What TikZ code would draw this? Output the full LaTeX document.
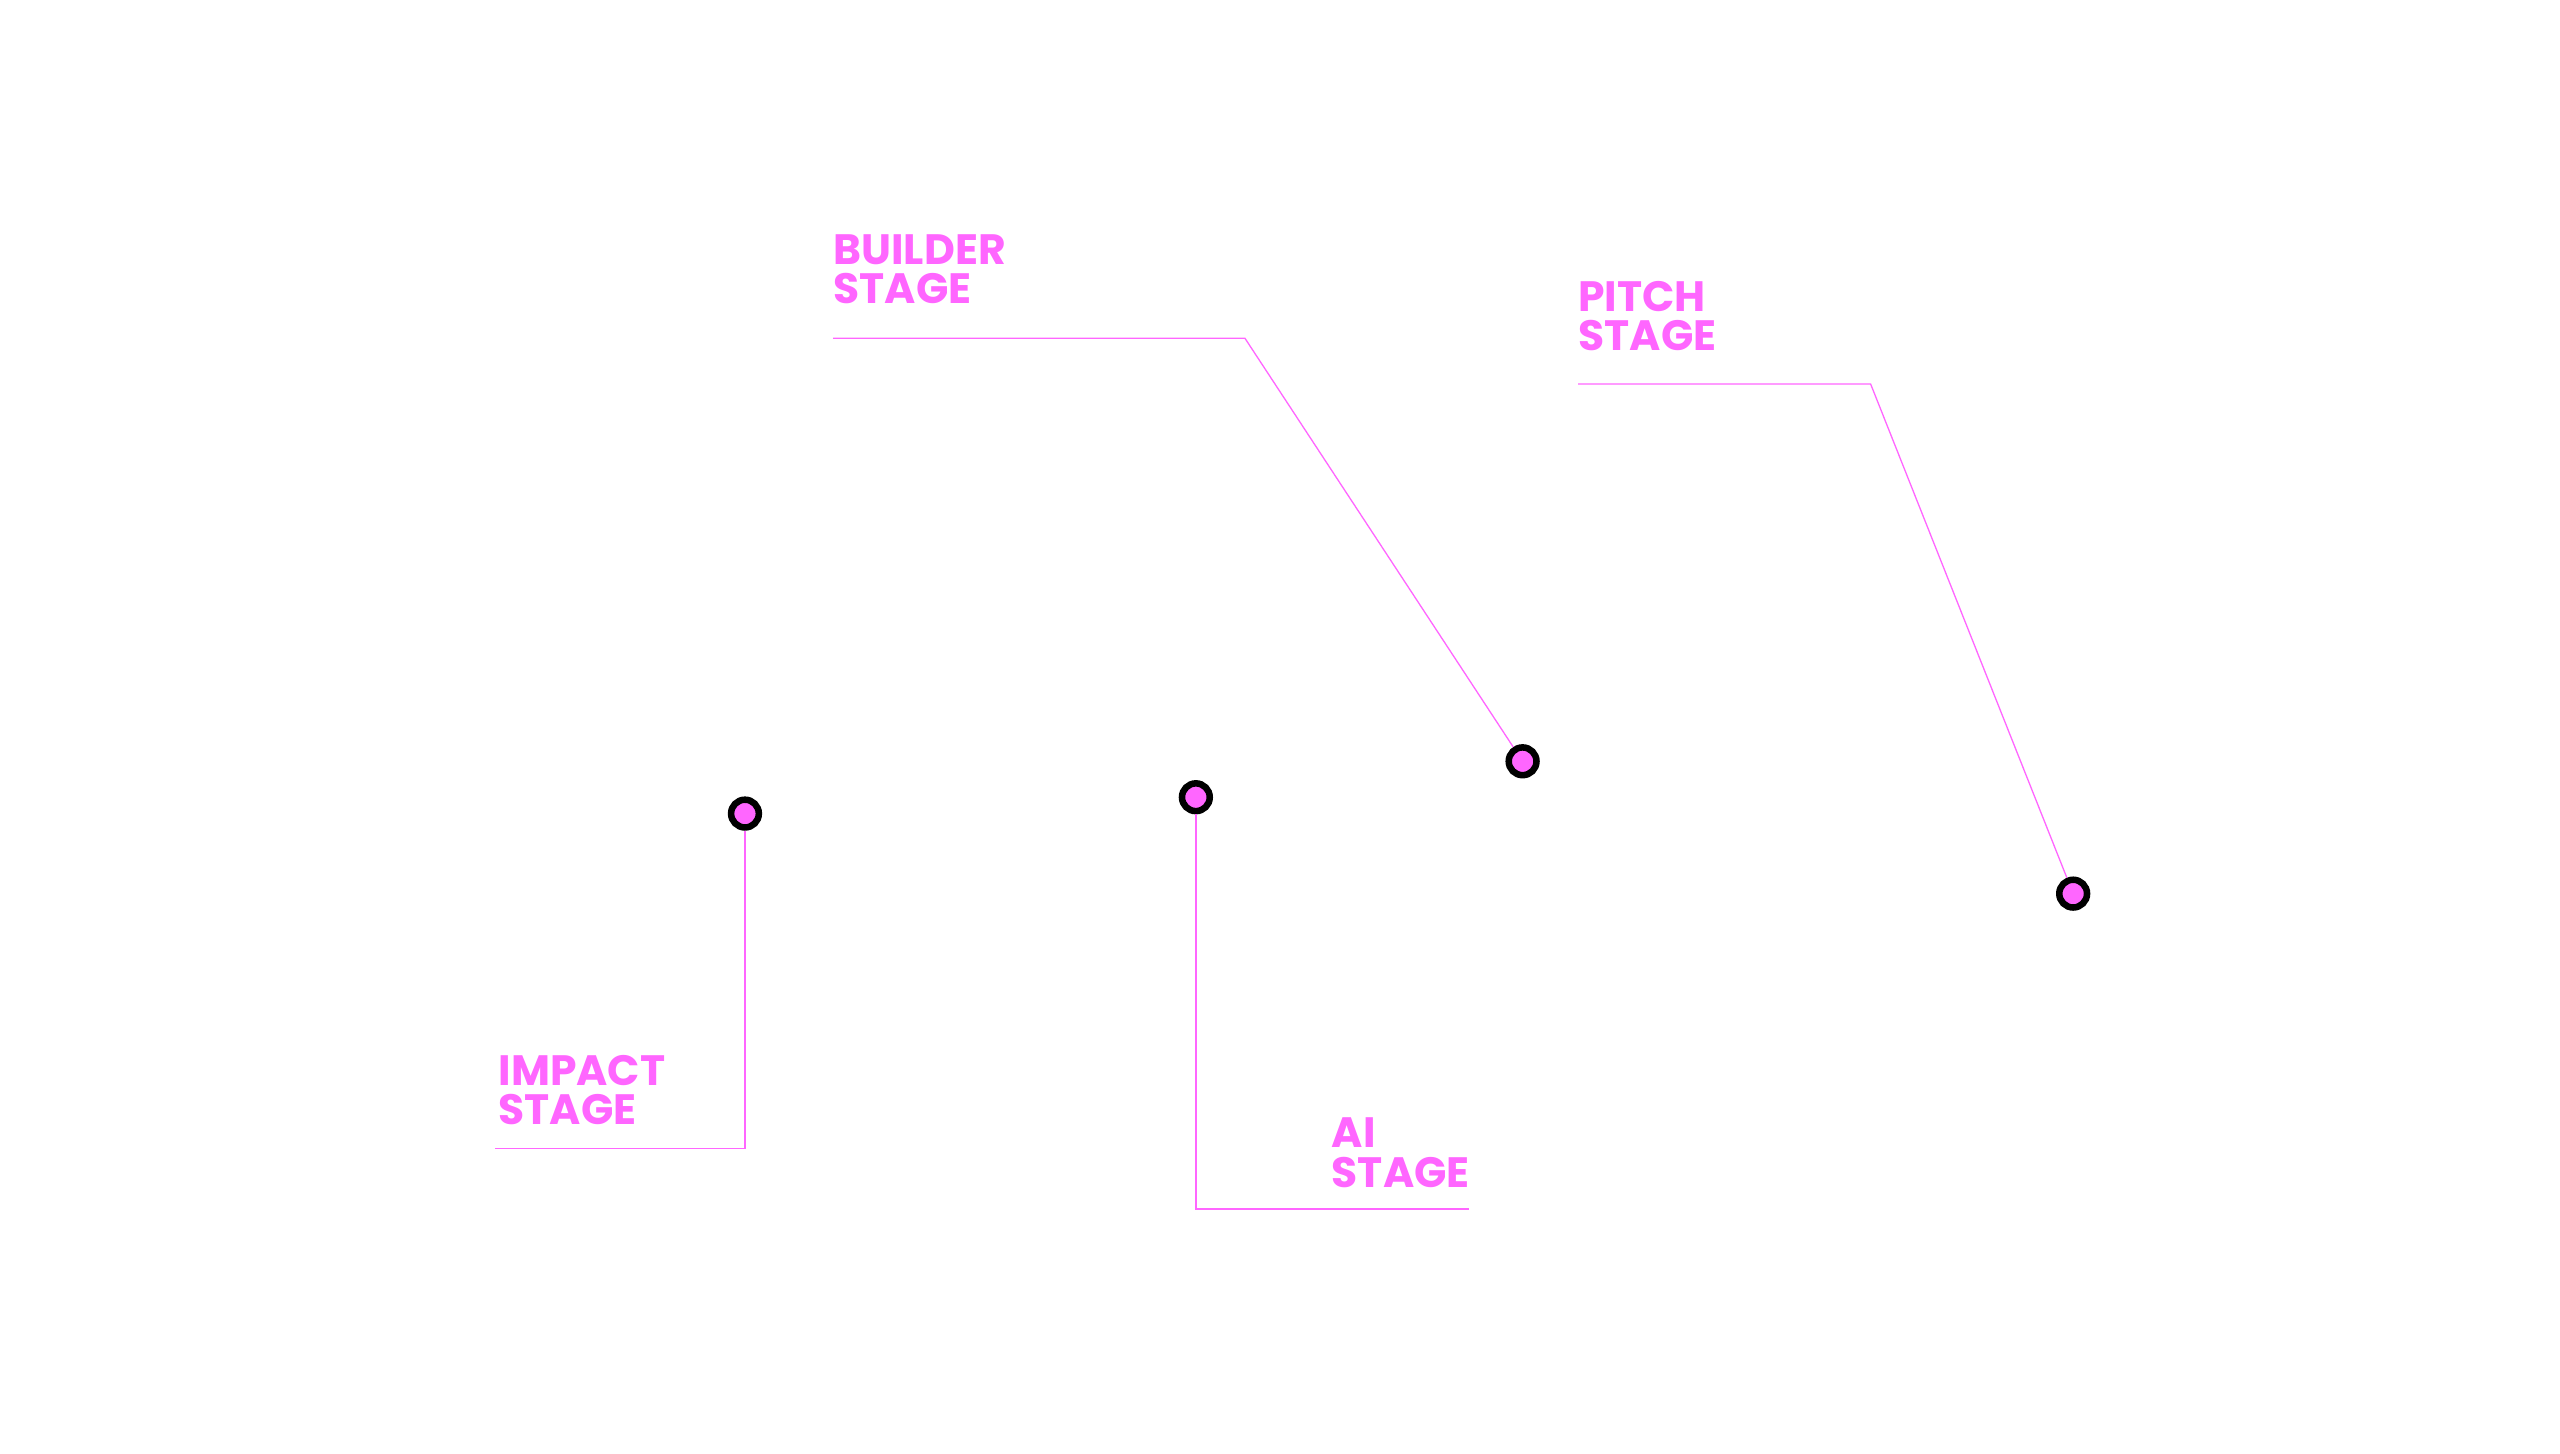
\documentclass[tikz,border=0pt]{standalone}
\usepackage{fontspec}
\setmainfont{Poppins}[BoldFont={* Bold}]
\definecolor{stagepink}{HTML}{FF66FF}
\begin{document}
\begin{tikzpicture}[x=1pt,y=-1pt]
	\tikzset{stagedot/.style = {circle,draw=black,line width=4pt,fill=stagepink,minimum size=17pt,inner sep=0pt}}
	\tikzset{stagelabel/.style = {anchor=south west,align=left,inner sep=0pt,text=stagepink,font=\bfseries\fontsize{26}{24}\selectfont}}
	\tikzset{leader/.style = {draw=stagepink,line width=0.8pt}}
	\useasboundingbox[fill=white] (0,0) rectangle (1567,890);
	% dots
	\node[stagedot] (impact) at (456,498) {};
	\node[stagedot] (ai) at (732,488) {};
	\node[stagedot] (builder) at (932,466) {};
	\node[stagedot] (pitch) at (1269,547) {};
	% elbows and free ends
	\coordinate (bk) at (762,207); \coordinate (be) at (510,207);
	\coordinate (pk) at (1145,235); \coordinate (pe) at (966,235);
	\coordinate (ik) at (456,703); \coordinate (ie) at (303,703);
	\coordinate (ak) at (732,740); \coordinate (ae) at (899,740);
	% labels
	\node[stagelabel] (builderlabel) at (510,186) {BUILDER\\STAGE};
	\node[stagelabel] (pitchlabel) at (966,215) {PITCH\\STAGE};
	\node[stagelabel] (impactlabel) at (305,689) {IMPACT\\STAGE};
	\node[stagelabel] (ailabel) at (815,727) {AI\\STAGE};
	% leaders
	\path[leader] (builder) -- (bk) -- (be);
	\path[leader] (pitch) -- (pk) -- (pe);
	\path[leader] (impact) -- (ik) -- (ie);
	\path[leader] (ai) -- (ak) -- (ae);
\end{tikzpicture}
\end{document}
